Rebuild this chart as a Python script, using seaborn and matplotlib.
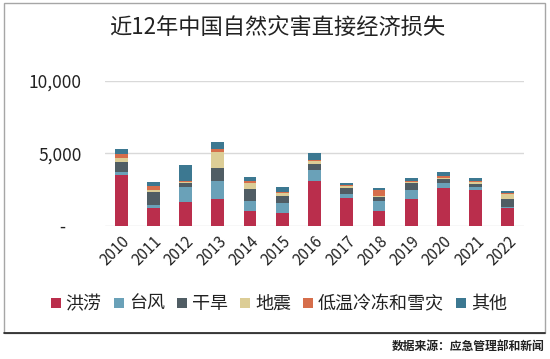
import numpy as np
import pandas as pd
import matplotlib
matplotlib.use('Agg')
import matplotlib.pyplot as plt
import seaborn as sns
from matplotlib.patches import Rectangle, Patch
from matplotlib.lines import Line2D

# 数据（亿元）
years = ['2010', '2011', '2012', '2013', '2014', '2015', '2016',
         '2017', '2018', '2019', '2020', '2021', '2022']
types = ['洪涝', '台风', '干旱', '地震', '低温冷冻和雪灾', '其他']
flood = [3480, 1220, 1660, 1845, 995, 900, 3110, 1895, 1035, 1845, 2625, 2465, 1220]
typhoon = [230, 210, 1035, 1265, 733, 670, 740, 297, 670, 620, 304, 228, 50]
drought = [670, 920, 275, 900, 788, 505, 415, 435, 300, 463, 318, 207, 575]
quake = [280, 115, 70, 1085, 456, 165, 185, 138, 70, 110, 35, 97, 325]
cold = [295, 275, 50, 207, 97, 110, 90, 70, 395, 50, 138, 110, 70]
other = [345, 300, 1130, 505, 276, 345, 463, 138, 160, 185, 276, 207, 160]
colors = ['#BA2E4C', '#6AA1B8', '#505D64', '#DCCD96', '#D66E4B', '#3C7891']

df = pd.DataFrame({'year': years, '洪涝': flood, '台风': typhoon, '干旱': drought,
                   '地震': quake, '低温冷冻和雪灾': cold, '其他': other})

sns.set_style('white')
plt.rcParams['font.family'] = ['Noto Sans CJK SC', 'DejaVu Sans']

fig = plt.figure(figsize=(5.5, 3.59), dpi=100)
ax = fig.add_axes([0.1909, 0.3713, 0.7618, 0.4031])

# 堆叠：从累计最高的一层往下画，后画的覆盖前面的
cum = df[types].cumsum(axis=1)
for t, c in reversed(list(zip(types, colors))):
    sns.barplot(x=df['year'], y=cum[t], color=c, width=0.4, linewidth=0,
                saturation=1, ax=ax, zorder=3)

ax.set_ylim(0, 10000)
ax.set_xlim(-0.5, len(years) - 0.5)
ax.set_yticks([0, 5000, 10000])
ax.set_yticklabels(['-    ', '5,000', '10,000'], fontsize=12.5, color='#222222')
for y in [0, 5000, 10000]:
    ax.axhline(y, color='#D9D9D9', lw=1, zorder=1)
ax.tick_params(axis='y', length=0, pad=17)
ax.tick_params(axis='x', length=0, pad=5)
plt.setp(ax.get_xticklabels(), rotation=45, ha='right', rotation_mode='anchor',
         fontsize=11, color='#222222')
ax.set_xlabel('')
ax.set_ylabel('')
sns.despine(ax=ax, left=True, bottom=True)

fig.text(0.504, 0.925, '近12年中国自然灾害直接经济损失', ha='center', va='center',
         fontsize=16, color='#222222')

handles = [Line2D([], [], marker='s', linestyle='', markersize=7,
                  markerfacecolor=c, markeredgewidth=0) for c in colors]
fig.legend(handles, types, loc='center', bbox_to_anchor=(0.506, 0.153), ncol=6,
           frameon=False, fontsize=13, handlelength=0.7, handletextpad=0.2,
           columnspacing=0.6, labelcolor='#222222')

# 外框与底部分隔线
fig.patches.append(Rectangle((4 / 550, 1 - 333 / 359), 541 / 550, 330 / 359,
                             transform=fig.transFigure, fill=False,
                             edgecolor='#A6A6A6', lw=1))
fig.lines.append(Line2D([4 / 550, 545 / 550], [1 - 333 / 359] * 2,
                        transform=fig.transFigure, color='#222222', lw=1.2))
fig.text(392 / 550, 1 - 346 / 359, '数据来源：应急管理部和新闻', ha='left', va='center',
         fontsize=8.5, color='#222222', fontweight='bold')

fig.savefig('out.png', dpi=100)
